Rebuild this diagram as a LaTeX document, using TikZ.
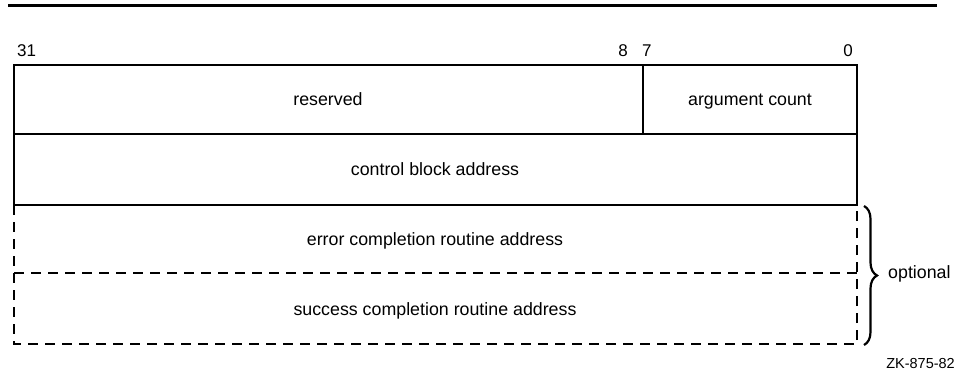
\documentclass[tikz,border=0pt]{standalone}
\usepackage{fontspec}
\setmainfont{Liberation Sans}
\usetikzlibrary{decorations.pathreplacing}
\begin{document}
\begin{tikzpicture}[x=1pt,y=-1pt,
  field/.style={font=\fontsize{17.8}{20}\selectfont, inner sep=0pt, text height=9.5pt, text depth=0pt, anchor=center},
  bitno/.style={font=\fontsize{17}{20}\selectfont, inner sep=0pt, anchor=base},
  solidline/.style={line width=1.4pt},
  dashline/.style={line width=1.4pt, dash pattern=on 10pt off 7pt},
  rulebar/.style={line width=3pt}]
\useasboundingbox (0,0) rectangle (966,372);
% top rule
\coordinate (ruleL) at (8,5);
\coordinate (ruleR) at (937,5);
\draw[rulebar] (ruleL) -- (ruleR);
% corners
\coordinate (tl) at (14,65);
\coordinate (tr) at (857,65);
\coordinate (m1l) at (14,134);
\coordinate (m1r) at (857,134);
\coordinate (m2l) at (14,205);
\coordinate (m2r) at (857,205);
\coordinate (m3l) at (14,273);
\coordinate (m3r) at (857,273);
\coordinate (bl) at (14,344);
\coordinate (br) at (857,344);
\coordinate (divT) at (643,65);
\coordinate (divB) at (643,134);
% solid part
\draw[solidline] (m2l) -- (tl) -- (tr) -- (m2r) -- cycle;
\draw[solidline] (m1l) -- (m1r);
\draw[solidline] (divT) -- (divB);
% dashed part
\draw[dashline] (m2l) -- (bl) -- (br) -- (m2r);
\draw[dashline] (m3l) -- (m3r);
% bit numbers
\node[bitno, anchor=base west] (b31) at (17,56) {31};
\node[bitno, anchor=base east] (b8) at (628,56) {8};
\node[bitno, anchor=base west] (b7) at (642,56) {7};
\node[bitno, anchor=base east] (b0) at (853,56) {0};
% field labels
\node[field] (reserved) at (328,101) {reserved};
\node[field] (argc) at (750,101) {argument count};
\node[field] (cba) at (435,171) {control block address};
\node[field] (ecra) at (435,241) {error completion routine address};
\node[field] (scra) at (435,311) {success completion routine address};
% brace
\coordinate (brT) at (864,206);
\coordinate (brB) at (864,345);
\draw[line width=2.2pt, decorate, decoration={brace, amplitude=13pt}] (brT) -- (brB);
\node[field, anchor=west] (opt) at (888,274) {optional};
\node[font=\fontsize{14.5}{16}\selectfont, inner sep=0pt, anchor=east] (zk) at (955,364) {ZK-875-82};
\end{tikzpicture}
\end{document}
